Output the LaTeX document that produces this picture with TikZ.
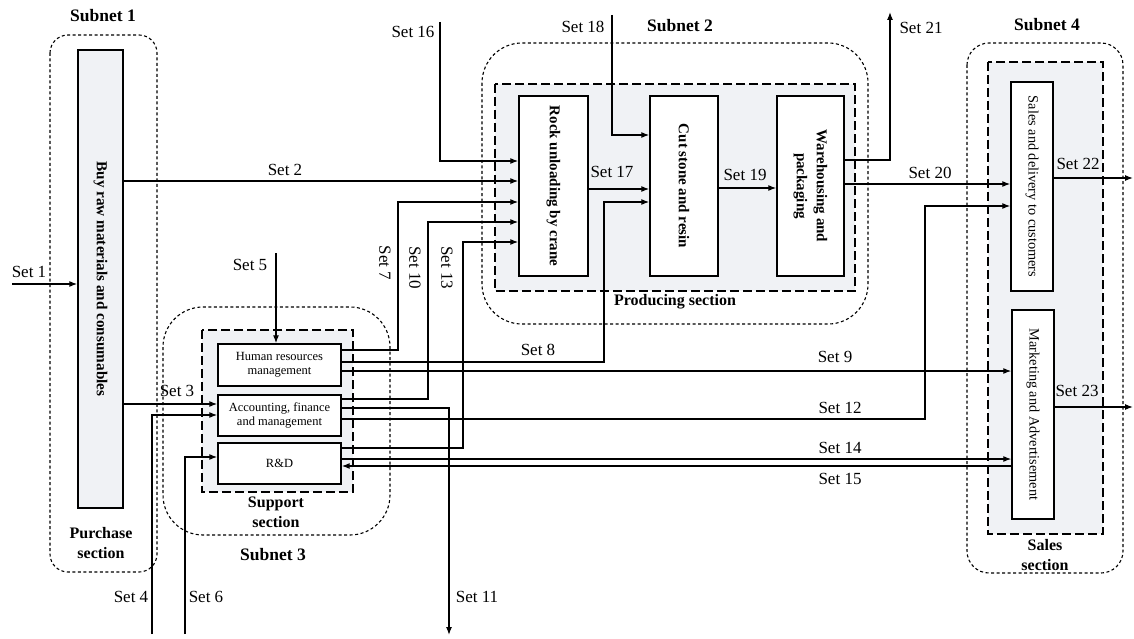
\documentclass[tikz,border=0pt]{standalone}
\usepackage{fontspec}
\setmainfont{Liberation Serif}
\usetikzlibrary{arrows.meta}
\definecolor{secfill}{RGB}{240,242,245}
\tikzset{
 subnet/.style={draw, line width=1.1pt, dash pattern=on 3pt off 2.5pt},
 section/.style={draw, fill=secfill, line width=1.3pt, dash pattern=on 9pt off 4pt},
 proc/.style={draw, line width=1.4pt, inner sep=0pt},
 flow/.style={line width=1.2pt, -{Latex[length=8pt,width=6pt]}},
 plain/.style={line width=1.2pt},
 setlbl/.style={font=\fontsize{17}{20}\selectfont, inner sep=0pt},
 titlelbl/.style={font=\fontsize{17.5}{20}\selectfont\bfseries, inner sep=0pt},
 seclbl/.style={font=\fontsize{16}{20}\selectfont\bfseries, inner sep=0pt, align=center},
 boxtxt/.style={font=\fontsize{15}{20}\selectfont\bfseries, rotate=-90, align=center, inner sep=0pt},
 boxtxtreg/.style={font=\fontsize{14.3}{18}\selectfont, rotate=-90, align=center, inner sep=0pt},
 smalltxt/.style={font=\fontsize{12.5}{14}\selectfont, align=center, inner sep=0pt},
}
\begin{document}
\begin{tikzpicture}[x=1pt,y=-1pt]
\useasboundingbox (0,0) rectangle (1134,639);
% subnets
\draw[subnet, rounded corners=18pt] (50,35) rectangle (157,572);
\draw[subnet, rounded corners=40pt] (482,43) rectangle (868,324);
\draw[subnet, rounded corners=40pt] (163,307) rectangle (390,535);
\draw[subnet, rounded corners=22pt] (967,43) rectangle (1123,573);
% sections
\draw[section] (495,84) rectangle (855,291);
\draw[section] (202,330) rectangle (353,492);
\draw[section] (988,62) rectangle (1103,534);
% titles
\node[titlelbl] (t1) at (103,16) {Subnet 1};
\node[titlelbl] (t2) at (680,26) {Subnet 2};
\node[titlelbl] (t3) at (273,555) {Subnet 3};
\node[titlelbl] (t4) at (1047,25) {Subnet 4};
\node[seclbl] (l1) at (101,543) {Purchase\\section};
\node[seclbl] (l3) at (276,512) {Support\\section};
\node[seclbl] (l2) at (675,302) {Producing section};
\node[seclbl] (l4) at (1045,555) {Sales\\section};
% process boxes
\node[proc, fill=secfill, minimum width=45pt, minimum height=458pt] (buy) at (100.5,279) {};
\node[boxtxt, font=\fontsize{15.2}{20}\selectfont\bfseries] (buyt) at (buy) {Buy raw materials and consumables};
\node[proc, fill=white, minimum width=69pt, minimum height=180pt] (rock) at (553.5,186) {};
\node[boxtxt] (rockt) at (rock) {Rock unloading by crane};
\node[proc, fill=white, minimum width=68pt, minimum height=180pt] (cut) at (684,186) {};
\node[boxtxt] (cutt) at (cut) {Cut stone and resin};
\node[proc, fill=white, minimum width=67pt, minimum height=180pt] (ware) at (810.5,186) {};
\node[boxtxt] (waret) at (ware) {Warehousing and\\packaging};
\node[proc, fill=white, minimum width=42pt, minimum height=209pt] (sales) at (1032,186.5) {};
\node[boxtxtreg] (salest) at (sales) {Sales and delivery to customers};
\node[proc, fill=white, minimum width=42pt, minimum height=209pt] (mkt) at (1033,414.5) {};
\node[boxtxtreg] (mktt) at (mkt) {Marketing and Advertisement};
\node[proc, fill=white, minimum width=123pt, minimum height=42pt] (hr) at (279.5,365) {};
\node[smalltxt] (hrt) at (hr) {Human resources\\management};
\node[proc, fill=white, minimum width=123pt, minimum height=41pt] (acc) at (279.5,415.5) {};
\node[smalltxt] (acct) at (acc) {Accounting, finance\\and management};
\node[proc, fill=white, minimum width=123pt, minimum height=41pt] (rd) at (279.5,463.5) {};
\node[smalltxt] (rdt) at (rd) {R\&D};
% free ends
\coordinate (e1) at (12,284);
\coordinate (e4) at (152,634);
\coordinate (e6) at (185,634);
\coordinate (e5) at (276,253);
\coordinate (e11) at (449,635);
\coordinate (e16) at (440,22);
\coordinate (e18) at (612,15);
\coordinate (e21) at (890,12);
\coordinate (e22) at (1133,178);
\coordinate (e23) at (1133,407);
% connectors
\draw[flow] (e1) -- (buy.west |- e1);
\draw[flow] (buy.east |- 0,181) -- (rock.west |- 0,181);
\draw[flow] (buy.east |- 0,404) -- (acc.west |- 0,404);
\draw[flow] (e4) -- (152,415) -- (acc.west |- 0,415);
\draw[flow] (e5) -- (e5 |- hr.north);
\draw[flow] (e6) -- (185,457) -- (rd.west |- 0,457);
\draw[flow] (hr.east |- 0,350) -- (398,350) -- (398,202) -- (rock.west |- 0,202);
\draw[flow] (hr.east |- 0,362) -- (604,362) -- (604,202) -- (cut.west |- 0,202);
\draw[flow] (hr.east |- 0,371) -- (mkt.west |- 0,371);
\draw[flow] (acc.east |- 0,399) -- (428,399) -- (428,222) -- (rock.west |- 0,222);
\draw[flow] (acc.east |- 0,408) -- (449,408) -- (e11);
\draw[flow] (acc.east |- 0,419) -- (925,419) -- (925,206) -- (sales.west |- 0,206);
\draw[flow] (rd.east |- 0,448) -- (463,448) -- (463,242) -- (rock.west |- 0,242);
\draw[flow] (rd.east |- 0,459) -- (mkt.west |- 0,459);
\draw[flow] (mkt.west |- 0,466) -- (rd.east |- 0,466);
\draw[flow] (e16) -- (440,161) -- (rock.west |- 0,161);
\draw[flow] (rock.east |- 0,189) -- (cut.west |- 0,189);
\draw[flow] (e18) -- (612,135) -- (cut.west |- 0,135);
\draw[flow] (cut.east |- 0,188) -- (ware.west |- 0,188);
\draw[flow] (ware.east |- 0,184) -- (sales.west |- 0,184);
\draw[flow] (ware.east |- 0,160) -- (890,160) -- (e21);
\draw[flow] (sales.east |- e22) -- (e22);
\draw[flow] (mkt.east |- e23) -- (e23);
% set labels
\node[setlbl] (s1) at (29,272) {Set 1};
\node[setlbl] (s2) at (285,170) {Set 2};
\node[setlbl] (s3) at (177,391) {Set 3};
\node[setlbl] (s4) at (131,597) {Set 4};
\node[setlbl] (s5) at (250,265) {Set 5};
\node[setlbl] (s6) at (206,597) {Set 6};
\node[setlbl, rotate=-90] (s7) at (385,263) {Set 7};
\node[setlbl] (s8) at (538,350) {Set 8};
\node[setlbl] (s9) at (835,357) {Set 9};
\node[setlbl, rotate=-90] (s10) at (415,268) {Set 10};
\node[setlbl] (s11) at (477,597) {Set 11};
\node[setlbl] (s12) at (840,408) {Set 12};
\node[setlbl, rotate=-90] (s13) at (447,268) {Set 13};
\node[setlbl] (s14) at (840,448) {Set 14};
\node[setlbl] (s15) at (840,479) {Set 15};
\node[setlbl] (s16) at (413,32) {Set 16};
\node[setlbl] (s17) at (612,172) {Set 17};
\node[setlbl] (s18) at (583,27) {Set 18};
\node[setlbl] (s19) at (745,175) {Set 19};
\node[setlbl] (s20) at (930,173) {Set 20};
\node[setlbl] (s21) at (921,28) {Set 21};
\node[setlbl] (s22) at (1078,164) {Set 22};
\node[setlbl] (s23) at (1077,391) {Set 23};
\end{tikzpicture}
\end{document}
